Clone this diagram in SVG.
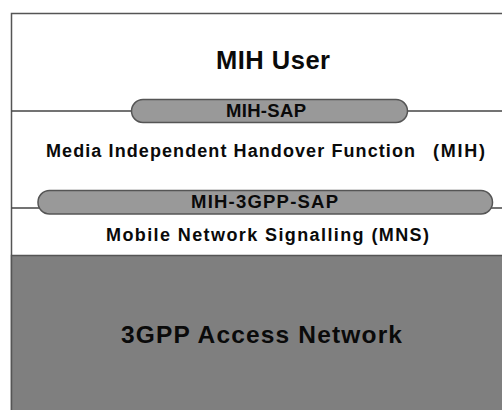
<svg xmlns="http://www.w3.org/2000/svg" width="502" height="410" viewBox="0 0 502 410">
  <style>
    .frame { fill: #ffffff; stroke: #555555; stroke-width: 1.5; }
    .rule { stroke: #444444; stroke-width: 1.5; fill: none; }
    .sap { fill: #999999; stroke: #555555; stroke-width: 1.5; }
    .access { fill: #7f7f7f; stroke: #555555; stroke-width: 1.5; }
    .lbl { font-family: "Liberation Sans", Arial, sans-serif; font-weight: bold; fill: #0a0a0a; }
  </style>

  <!-- outer frame of the protocol stack -->
  <rect class="frame" x="11.5" y="13.5" width="520" height="420"/>

  <!-- layer boundaries -->
  <g id="boundaries">
    <line class="rule" x1="11.5" y1="111" x2="502" y2="111"/>
    <line class="rule" x1="11.5" y1="208" x2="502" y2="208"/>
  </g>

  <g id="mih-user">
    <text class="lbl" x="216" y="69" font-size="25.5" textLength="114" lengthAdjust="spacing">MIH User</text>
  </g>

  <g id="mih-sap">
    <rect class="sap" x="131.5" y="99.5" width="276" height="23" rx="11.5"/>
    <text class="lbl" x="226" y="117" font-size="18.5" textLength="80" lengthAdjust="spacing">MIH-SAP</text>
  </g>

  <g id="mih-function">
    <text class="lbl" x="46" y="156.7" font-size="18" textLength="369" lengthAdjust="spacing">Media Independent Handover Function</text>
    <text class="lbl" x="433" y="156.7" font-size="18" textLength="52" lengthAdjust="spacing">(MIH)</text>
  </g>

  <g id="mih-3gpp-sap">
    <rect class="sap" x="38" y="190.5" width="454.5" height="23.5" rx="11.5"/>
    <text class="lbl" x="191" y="207.5" font-size="18.5" textLength="147" lengthAdjust="spacing">MIH-3GPP-SAP</text>
  </g>

  <g id="mns">
    <text class="lbl" x="106" y="241" font-size="18" textLength="323" lengthAdjust="spacing">Mobile Network Signalling  (MNS)</text>
  </g>

  <g id="access-network">
    <rect class="access" x="11.5" y="255.5" width="520" height="180"/>
    <text class="lbl" x="121" y="343.3" font-size="24.5" textLength="281" lengthAdjust="spacing">3GPP Access Network</text>
  </g>
</svg>
